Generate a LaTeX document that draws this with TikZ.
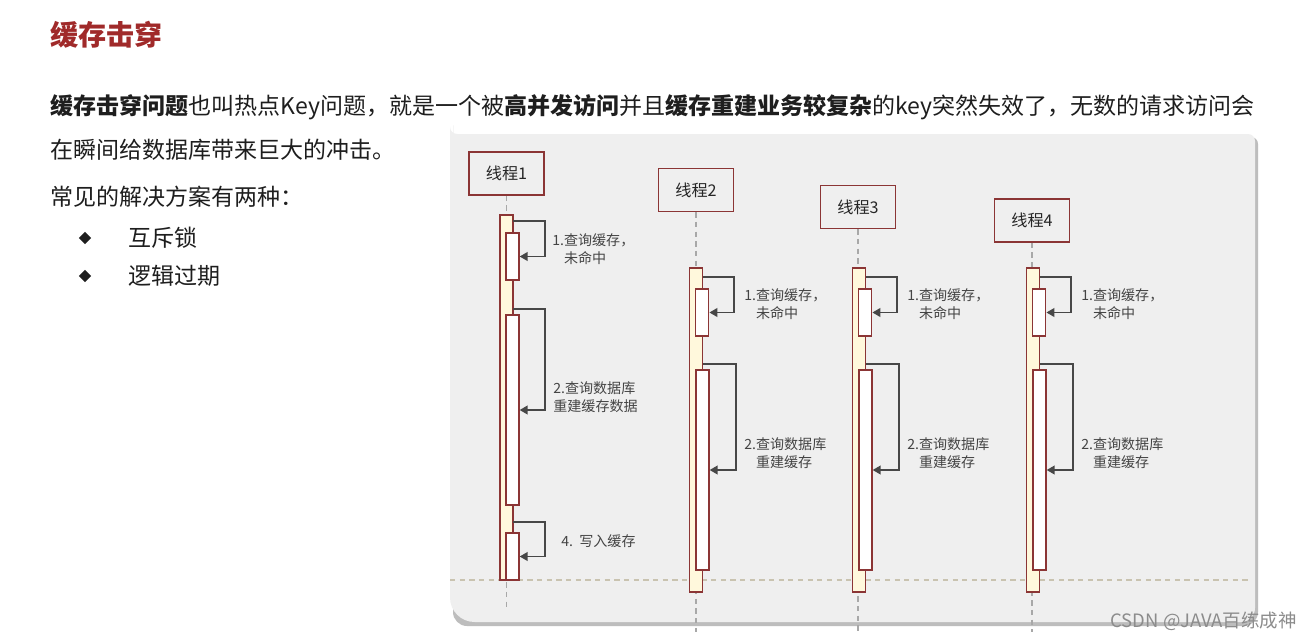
\documentclass[tikz,border=0pt]{standalone}
\usepackage{fontspec}
\setmainfont{Noto Sans CJK SC}
\usetikzlibrary{arrows.meta,shapes.geometric}
\definecolor{maroon}{HTML}{8B3535}
\definecolor{titlered}{HTML}{A02A2A}
\definecolor{panelbg}{HTML}{EFEFEF}
\definecolor{shadowc}{HTML}{BDBDBD}
\definecolor{barfill}{HTML}{FFF8DC}
\definecolor{arrowc}{HTML}{474747}
\definecolor{labelc}{HTML}{444444}
\definecolor{lifec}{HTML}{A8A8A8}
\definecolor{sepc}{HTML}{C9C3B0}
\definecolor{bodyc}{HTML}{1E1E1E}
\begin{document}
\begin{tikzpicture}[x=0.02cm, y=-0.02cm,
  thread/.style={draw=maroon, line width=0.9pt, fill=panelbg, minimum width=1.5cm, minimum height=0.86cm, inner sep=0, font=\fontsize{9.2}{11}\selectfont, text=black!85},
  bar/.style={draw=maroon, line width=0.8pt, fill=barfill, inner sep=0, minimum width=0.27cm},
  act/.style={draw=maroon, line width=0.8pt, fill=white, inner sep=0, minimum width=0.27cm},
  msg/.style={draw=arrowc, line width=0.85pt, -{Triangle[length=4.5pt,width=5pt]}},
  lbl/.style={anchor=west, align=left, inner sep=0, text=labelc, font=\fontsize{8}{10.2}\selectfont},
  life/.style={draw=lifec, line width=0.6pt, dash pattern=on 3pt off 2.5pt},
  body/.style={anchor=west, inner sep=0, text=bodyc, font=\fontsize{13.1}{15}\selectfont}]
\useasboundingbox (0,0) rectangle (1311,639);
\fill[white] (0,0) rectangle (1311,639);

% panel with shadow
\fill[shadowc] (453,150) [rounded corners=4pt] -- (453,137) -- (1258,137) [rounded corners=8pt] -- (1258,626) -- (453,626) [rounded corners=14pt] -- cycle;
\fill[panelbg] (450,134) [rounded corners=4pt] -- (1255,134) [rounded corners=8pt] -- (1255,622) [rounded corners=14pt] -- (450,622) [rounded corners=4pt] -- (450,134) -- cycle;

% title and text
\node[anchor=west, inner sep=0, text=titlered, font=\fontsize{16}{18}\selectfont\bfseries] (title) at (50,35) {缓存击穿};
\node[body] (l1) at (50,107) {\textbf{缓存击穿问题}也叫热点Key问题，就是一个被\textbf{高并发访问}并且\textbf{缓存重建业务较复杂}的key突然失效了，无数的请求访问会};
\node[body] (l2) at (50,150) {在瞬间给数据库带来巨大的冲击。};
\node[body] (l3) at (50,197) {常见的解决方案有两种：};
\node[diamond, fill=bodyc, inner sep=0, minimum size=0.25cm] (d1) at (85,238) {};
\node[diamond, fill=bodyc, inner sep=0, minimum size=0.25cm] (d2) at (85,276) {};
\node[body] (s1) at (128,238) {互斥锁};
\node[body] (s2) at (128,276) {逻辑过期};

% separator
\draw[sepc, line width=0.7pt, dash pattern=on 3pt off 2.5pt] (450,580) -- (1252,580);

% thread heads
\node[thread] (t1) at (506.5,173.5) {线程1};
\node[thread] (t2) at (696,190) {线程2};
\node[thread] (t3) at (858,207) {线程3};
\node[thread] (t4) at (1032,220.5) {线程4};

% lifelines
\coordinate (e1) at (506.5,610);
\coordinate (e2) at (696,632);
\coordinate (e3) at (858,632);
\coordinate (e4) at (1032,632);
\draw[life] (t1.south) -- (e1);
\draw[life] (t2.south) -- (e2);
\draw[life] (t3.south) -- (e3);
\draw[life] (t4.south) -- (e4);

% thread 1
\node[bar, minimum width=0.26cm, minimum height=7.3cm] (b1) at (506.5,397.5) {};
\node[act, minimum width=0.26cm, minimum height=0.94cm] (b1a) at (512.5,256.5) {};
\node[act, minimum width=0.26cm, minimum height=3.8cm] (b1b) at (512.5,410) {};
\node[act, minimum width=0.26cm, minimum height=0.94cm] (b1c) at (512.5,556.5) {};
\coordinate (p1a) at (513,221);
\coordinate (p1b) at (513,309);
\coordinate (p1c) at (513,522);
\draw[msg] (p1a) -- ++(32,0) |- (b1a.east);
\draw[msg] (p1b) -- ++(32,0) |- (b1b.east);
\draw[msg] (p1c) -- ++(32,0) |- (b1c.east);
\node[lbl] (q1a) at (552,249) {1.查询缓存，\\\phantom{1.}未命中};
\node[lbl] (q1b) at (553,397.5) {2.查询数据库\\重建缓存数据};
\node[lbl] (q1c) at (561,541) {4.\ \ 写入缓存};

% threads 2-4
\foreach \i/\dx in {2/0, 3/163, 4/337} {
  \node[bar, minimum height=6.48cm] (b\i) at (696+\dx,430) {};
  \node[act, minimum height=0.94cm] (b\i a) at (702+\dx,312.5) {};
  \node[act, minimum width=0.26cm, minimum height=4cm] (b\i b) at (702.5+\dx,470) {};
  \coordinate (p\i a) at (703+\dx,277);
  \coordinate (p\i b) at (703+\dx,364);
  \draw[msg] (p\i a) -- ++(31,0) |- (b\i a.east);
  \draw[msg] (p\i b) -- ++(33,0) |- (b\i b.east);
  \node[lbl] (q\i a) at (744+\dx,304.5) {1.查询缓存，\\\phantom{1.}未命中};
  \node[lbl] (q\i b) at (744+\dx,453) {2.查询数据库\\\phantom{2.}重建缓存};
}

% watermark
\node[anchor=east, inner sep=0, text=black!45, font=\fontsize{10.5}{12}\selectfont] (wm) at (1297,621) {CSDN @JAVA百练成神};
\end{tikzpicture}
\end{document}
